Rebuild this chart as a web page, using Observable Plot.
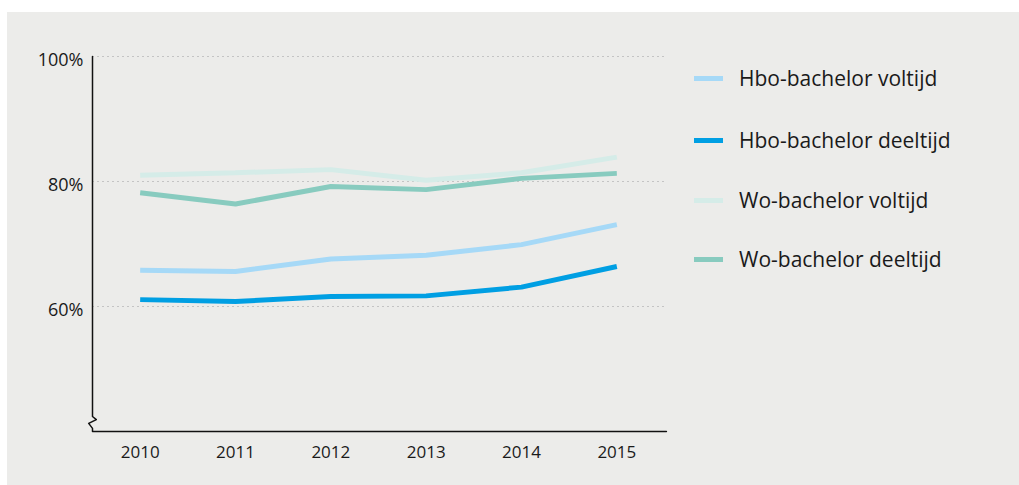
<!DOCTYPE html>
<html>
<head>
<meta charset="utf-8">
<script src="https://cdn.jsdelivr.net/npm/d3@7"></script>
<script src="https://cdn.jsdelivr.net/npm/@observablehq/plot@0.6"></script>
<style>
  html, body { margin: 0; padding: 0; background: #ffffff; }
  #panel { position: absolute; left: 7px; top: 12px; width: 1012px; height: 473px; background: #ececea; font-family: "Open Sans", sans-serif; }
  #chart { position: absolute; left: 0; top: 0; }
  #legend { position: absolute; left: 687px; top: 0; }
  .item { position: absolute; left: 0; display: flex; align-items: center; white-space: nowrap; font-size: 21px; color: #1a1a1a; }
  .sw { width: 29px; height: 5px; margin-right: 16px; }
</style>
</head>
<body>
<div id="panel">
  <div id="chart"></div>
  <div id="legend"></div>
</div>
<script>
const years = [2010, 2011, 2012, 2013, 2014, 2015];
const seriesNames = ["Hbo-bachelor voltijd", "Hbo-bachelor deeltijd", "Wo-bachelor voltijd", "Wo-bachelor deeltijd"];
const seriesColors = ["#a6d9f7", "#009fe3", "#d5ece8", "#88cbbf"];
const hboVoltijd  = [65.8, 65.6, 67.6, 68.2, 69.9, 73.1];
const hboDeeltijd = [61.1, 60.8, 61.6, 61.7, 63.1, 66.4];
const woVoltijd   = [81.0, 81.4, 81.9, 80.2, 81.4, 83.9];
const woDeeltijd  = [78.2, 76.4, 79.2, 78.7, 80.5, 81.3];
const yTicks = [60, 80, 100];
const yTickLabels = ["60%", "80%", "100%"];
const xTickLabels = ["2010", "2011", "2012", "2013", "2014", "2015"];
// axis line with break symbol (data units)
const axisPath = [
  {x: 2009.5, y: 100}, {x: 2009.5, y: 42.4}, {x: 2009.54, y: 41.9},
  {x: 2009.46, y: 41.3}, {x: 2009.5, y: 40.5}, {x: 2009.5, y: 40}, {x: 2015.52, y: 40}
];

const allValues = [hboVoltijd, hboDeeltijd, woVoltijd, woDeeltijd];
const rows = [];
allValues.forEach((vals, i) => vals.forEach((v, j) => rows.push({series: seriesNames[i], year: years[j], value: v})));

const plot = Plot.plot({
  width: 690,
  height: 473,
  marginLeft: 85,
  marginRight: 33,
  marginTop: 44,
  marginBottom: 54,
  style: {background: "transparent", fontFamily: "'Open Sans', sans-serif", color: "#1a1a1a"},
  x: {domain: [2009.5, 2015.5], axis: null},
  y: {domain: [40, 100], axis: null},
  color: {domain: seriesNames, range: seriesColors},
  marks: [
    Plot.ruleY(yTicks, {x1: 2009.5, x2: 2015.5, stroke: "#c4c4c4", strokeWidth: 1.2, strokeDasharray: "2,3"}),
    Plot.line(axisPath, {x: "x", y: "y", stroke: "#111", strokeWidth: 1.5, curve: "linear"}),
    ...seriesNames.map(name => Plot.line(rows.filter(d => d.series === name), {
      x: "year", y: "value", stroke: "series", strokeWidth: 5, strokeLinejoin: "miter", strokeLinecap: "butt"
    })),
    Plot.text(yTicks, {x: 2009.5, y: d => d, text: (d, i) => yTickLabels[i], textAnchor: "end", dx: -9, dy: 4, fontSize: 18, fill: "#1a1a1a"}),
    Plot.text(years, {x: d => d, y: 40, text: (d, i) => xTickLabels[i], dy: 21, fontSize: 17, fill: "#1a1a1a", style: "letter-spacing: 1.2px"})
  ]
});
document.getElementById("chart").appendChild(plot);

const legendTops = [66, 128, 188, 247];
const legend = document.getElementById("legend");
seriesNames.forEach((name, i) => {
  const item = document.createElement("div");
  item.className = "item";
  item.style.top = (legendTops[i] - 14) + "px";
  item.style.height = "28px";
  const sw = document.createElement("div");
  sw.className = "sw";
  sw.style.background = seriesColors[i];
  const t = document.createElement("span");
  t.textContent = name;
  item.appendChild(sw);
  item.appendChild(t);
  legend.appendChild(item);
});
</script>
</body>
</html>
